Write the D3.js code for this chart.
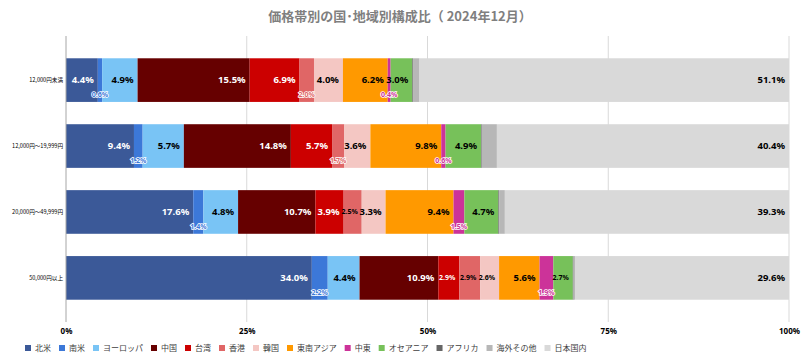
<!DOCTYPE html>
<html>
<head>
<meta charset="utf-8">
<script src="https://cdn.jsdelivr.net/npm/d3@7"></script>
<style>
  body { margin: 0; background: #fff; }
  svg { font-family: "Noto Sans CJK JP", "Noto Sans", sans-serif; }
</style>
</head>
<body>
<svg id="chart"></svg>
<script>
// price bands (rows) and regions (stack order)
const bands = ["12,000円未満", "12,000円～19,999円", "20,000円～49,999円", "50,000円以上"];
const regions = ["北米", "南米", "ヨーロッパ", "中国", "台湾", "香港", "韓国", "東南アジア", "中東", "オセアニア", "アフリカ", "海外その他", "日本国内"];
const colors = ["#3B5998", "#3C78D8", "#79C4F5", "#660000", "#CC0000", "#E06666", "#F4C7C3", "#FF9900", "#CC3399", "#77C15A", "#666666", "#B7B7B7", "#D9D9D9"];

// share (%) per region, one array per price band
const under12000 = [4.4, 0.6, 4.9, 15.5, 6.9, 2.0, 4.0, 6.2, 0.4, 3.0, 0.1, 0.9, 51.1];
const from12000 = [9.4, 1.2, 5.7, 14.8, 5.7, 1.7, 3.6, 9.8, 0.6, 4.9, 0.1, 2.1, 40.4];
const from20000 = [17.6, 1.4, 4.8, 10.7, 3.9, 2.5, 3.3, 9.4, 1.5, 4.7, 0.1, 0.8, 39.3];
const over50000 = [34.0, 2.2, 4.4, 10.9, 2.9, 2.9, 2.6, 5.6, 1.9, 2.7, 0.1, 0.2, 29.6];
const shares = [under12000, from12000, from20000, over50000];

const xTicks = [0, 0.25, 0.5, 0.75, 1];
const labelled = ["北米", "南米", "ヨーロッパ", "中国", "台湾", "香港", "韓国", "東南アジア", "中東", "オセアニア", "日本国内"];
const whiteText = ["北米", "中国", "台湾"];

const svgWidth = 804, svgHeight = 363;
const margin = {top: 36, right: 15, bottom: 41, left: 66};
const width = svgWidth - margin.left - margin.right,
      height = svgHeight - margin.top - margin.bottom;

const chart = d3.select("#chart")
    .attr("width", svgWidth)
    .attr("height", svgHeight);

chart.append("text")
    .attr("x", 400).attr("y", 21)
    .attr("text-anchor", "middle")
    .style("font-size", "13px").style("font-weight", "bold")
    .style("fill", "#7F7F7F")
    .text("価格帯別の国･地域別構成比（ 2024年12月）");

const inner = chart.append("g")
    .attr("transform", `translate(${margin.left},${margin.top})`);

const xScale = d3.scaleLinear().domain([0, 1]).range([0, width]);
const yScale = d3.scaleBand().domain(bands).range([0, height]).padding(0.338);

// gridlines
inner.append("g").selectAll("line")
    .data(xTicks.slice(1))
    .enter().append("line")
    .attr("x1", d => xScale(d)).attr("x2", d => xScale(d))
    .attr("y1", 0).attr("y2", height)
    .attr("stroke", "#D9D9D9").attr("stroke-width", 1);

// x axis labels
const xAxis = d3.axisBottom(xScale).tickValues(xTicks).tickFormat(d3.format(".0%")).tickSize(0).tickPadding(6);
const gx = inner.append("g").attr("transform", `translate(0,${height})`).call(xAxis);
gx.select(".domain").remove();
gx.selectAll("text").style("font-size", "8px").style("font-weight", "bold").style("fill", "#000")
    .style("font-family", '"Noto Sans", sans-serif');

// stacked data
const rows = bands.map((b, i) => {
    const o = {band: b};
    regions.forEach((r, j) => o[r] = shares[i][j] / 100);
    return o;
});
const stacked = d3.stack().keys(regions)(rows);

const layers = inner.append("g").selectAll("g")
    .data(stacked)
    .enter().append("g")
    .attr("fill", (d, i) => colors[i]);

layers.selectAll("rect")
    .data(d => d)
    .enter().append("rect")
    .attr("x", d => xScale(d[0]))
    .attr("y", d => yScale(d.data.band))
    .attr("width", d => xScale(d[1]) - xScale(d[0]))
    .attr("height", yScale.bandwidth());

// y axis line and labels
inner.append("line")
    .attr("x1", 0).attr("x2", 0).attr("y1", 0).attr("y2", height)
    .attr("stroke", "#A6A6A6");
inner.append("g").selectAll("text")
    .data(bands)
    .enter().append("text")
    .attr("x", -3)
    .attr("y", d => yScale(d) + yScale.bandwidth() / 2)
    .attr("dy", "0.35em")
    .attr("text-anchor", "end")
    .style("font-size", "5.6px")
    .text(d => d);

// value labels
const labelG = inner.append("g");
stacked.forEach((layer, i) => {
    const region = regions[i];
    if (!labelled.includes(region)) return;
    layer.forEach(d => {
        const v = Math.round((d[1] - d[0]) * 1000) / 10;
        const pct = v.toFixed(1) + "%";
        const y = yScale(d.data.band) + yScale.bandwidth() / 2;
        if (v < 2.4) {
            labelG.append("text")
                .attr("x", (xScale(d[0]) + xScale(d[1])) / 2)
                .attr("y", yScale(d.data.band) + yScale.bandwidth() - 7)
                .attr("dy", "0.35em")
                .attr("text-anchor", "middle")
                .style("font-size", "7px").style("font-weight", "bold")
                .style("fill", colors[i])
                .style("stroke", "#fff").style("stroke-width", 1.6)
                .style("paint-order", "stroke")
                .style("font-family", '"Noto Sans", sans-serif')
                .text(pct);
        } else {
            labelG.append("text")
                .attr("x", xScale(d[1]) - 4)
                .attr("y", y)
                .attr("dy", "0.35em")
                .attr("text-anchor", "end")
                .style("font-size", v < 3 ? "7px" : "9.5px").style("font-weight", "bold")
                .style("fill", whiteText.includes(region) ? "#fff" : "#000")
                .style("font-family", '"Noto Sans", sans-serif')
                .text(pct);
        }
    });
});

// legend
const legend = chart.append("g").attr("transform", "translate(25,348)");
let lx = 0;
regions.forEach((r, i) => {
    const item = legend.append("g").attr("transform", `translate(${lx},0)`);
    item.append("rect").attr("x", 0).attr("y", -3).attr("width", 6).attr("height", 6).attr("fill", colors[i]);
    const t = item.append("text").attr("x", 10).attr("y", 0).attr("dy", "0.35em")
        .style("font-size", "8px").style("fill", "#404040").text(r);
    lx += 10 + t.node().getComputedTextLength() + 8;
});
</script>
</body>
</html>
